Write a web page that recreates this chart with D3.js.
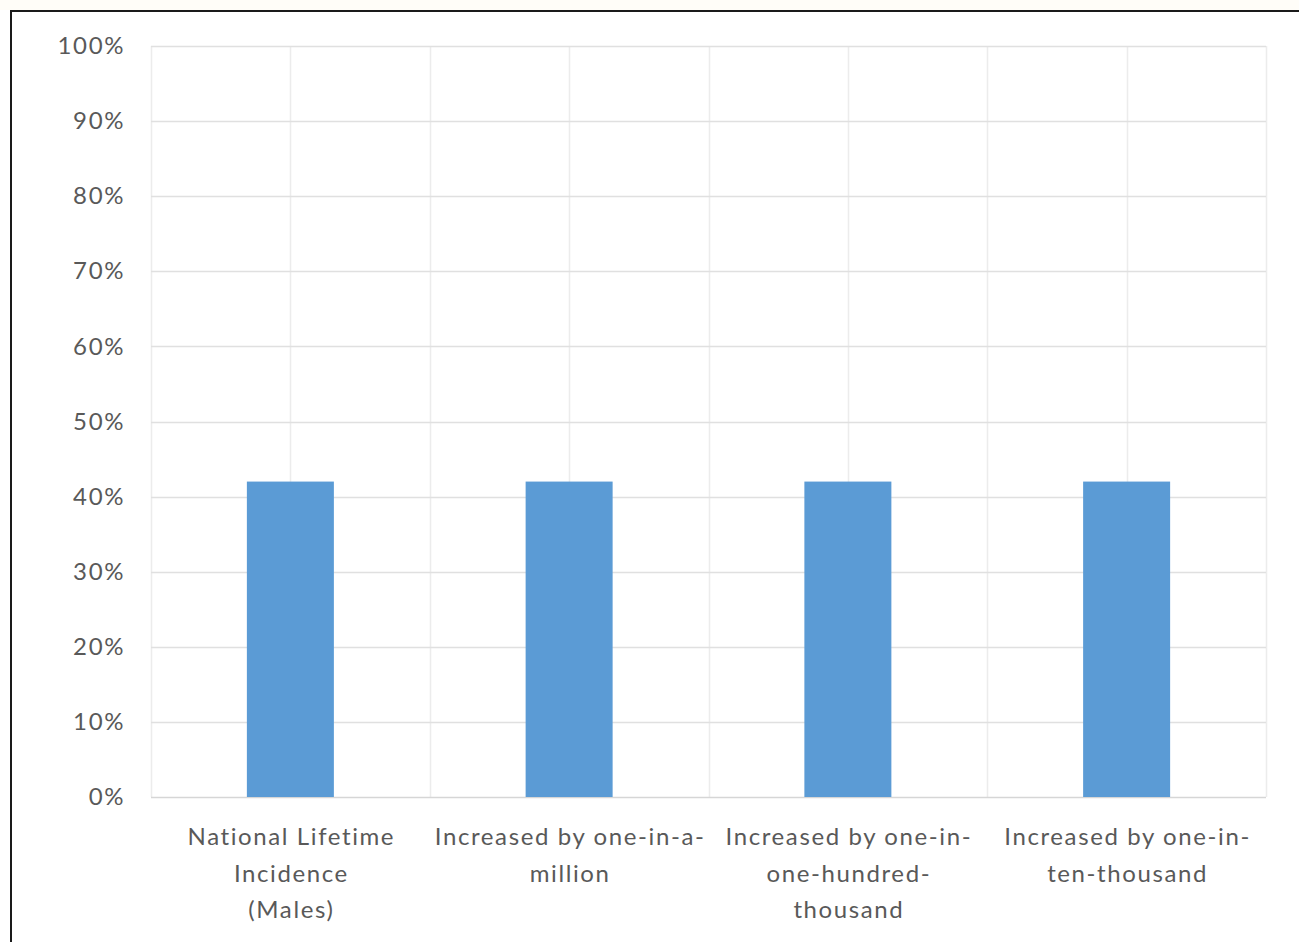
<!DOCTYPE html>
<html>
<head>
<meta charset="utf-8">
<script src="https://cdn.jsdelivr.net/npm/d3@7"></script>
<style>
  html, body { margin: 0; padding: 0; background: #fff; }
  svg { display: block; }
  text { font-family: Lato, "Open Sans", sans-serif; fill: #595959; }
</style>
</head>
<body>
<svg id="chart" width="1299" height="942"></svg>
<script>
// Lifetime incidence, base rate and with added risk levels
const categories = [
  ["National Lifetime", "Incidence", "(Males)"],
  ["Increased by one-in-a-", "million"],
  ["Increased by one-in-", "one-hundred-", "thousand"],
  ["Increased by one-in-", "ten-thousand"]
];
const values = [0.42, 0.42, 0.42, 0.42];
const yTicks = [0, 0.1, 0.2, 0.3, 0.4, 0.5, 0.6, 0.7, 0.8, 0.9, 1.0];

const svg = d3.select("#chart");
const W = 1299, H = 942;
const FONT = "Lato, 'Open Sans', sans-serif";
const FS = "24px", LS = "1.6px";

// strip above the frame
svg.append("rect").attr("x", 0).attr("y", 0).attr("width", W).attr("height", 10).attr("fill", "#fffdf8");
// chart frame
svg.append("rect").attr("x", 11).attr("y", 11).attr("width", W + 10).attr("height", H + 10)
  .attr("fill", "#fff").attr("stroke", "#1a1a1a").attr("stroke-width", 2);

const plot = { left: 151, right: 1266, top: 46, bottom: 797 };

const x = d3.scaleBand().domain(d3.range(categories.length))
  .range([plot.left, plot.right]).paddingInner(0).paddingOuter(0);
const y = d3.scaleLinear().domain([0, 1]).range([plot.bottom, plot.top]);

// vertical gridlines at category edges and centres
const vLines = [];
categories.forEach((c, i) => {
  vLines.push(x(i));
  vLines.push(x(i) + x.bandwidth() / 2);
});
vLines.push(plot.right);
svg.append("g").selectAll("line").data(vLines).join("line")
  .attr("x1", d => Math.round(d) + 0.5).attr("x2", d => Math.round(d) + 0.5)
  .attr("y1", plot.top).attr("y2", plot.bottom)
  .attr("stroke", "#ececec").attr("stroke-width", 1.5);

// horizontal gridlines
svg.append("g").selectAll("line").data(yTicks).join("line")
  .attr("x1", plot.left).attr("x2", plot.right)
  .attr("y1", d => Math.round(y(d)) + 0.5).attr("y2", d => Math.round(y(d)) + 0.5)
  .attr("stroke", d => d === 0 ? "#d6d6d6" : "#e0e0e0").attr("stroke-width", 1.5);

// y-axis labels
const yAxis = d3.axisLeft(y).tickValues(yTicks).tickFormat(d3.format(".0%")).tickSize(0).tickPadding(26);
const gy = svg.append("g").attr("transform", `translate(${plot.left},0)`).call(yAxis);
gy.select(".domain").remove();
gy.selectAll("text").style("font-size", FS).style("letter-spacing", LS)
  .style("fill", "#595959").style("font-family", FONT);

// bars
const barW = 87;
svg.append("g").selectAll("rect").data(values).join("rect")
  .attr("x", (d, i) => x(i) + x.bandwidth() / 2 - barW / 2)
  .attr("width", barW)
  .attr("y", d => y(d))
  .attr("height", d => y(0) - y(d))
  .attr("fill", "#5b9bd5");

// category labels
const lab = svg.append("g");
categories.forEach((lines, i) => {
  const t = lab.append("text")
    .attr("text-anchor", "middle")
    .style("font-size", FS).style("letter-spacing", LS);
  lines.forEach((ln, j) => {
    t.append("tspan").attr("x", x(i) + x.bandwidth() / 2 + 1).attr("y", 845 + j * 36.5).text(ln);
  });
});
</script>
</body>
</html>
